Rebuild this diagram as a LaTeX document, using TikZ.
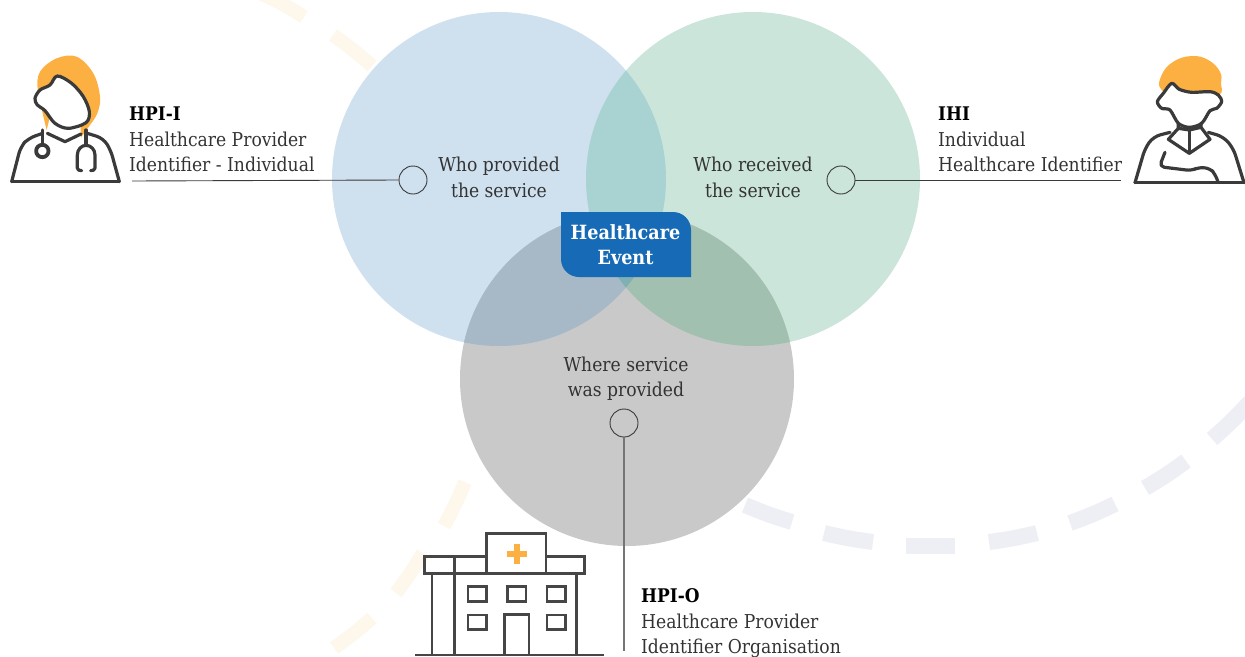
\documentclass[tikz,border=0pt]{standalone}
\usepackage{fontspec}
\setmainfont{DejaVu Serif}
\newfontfamily\regf{DejaVu Serif Condensed}
\newfontfamily\boldf{DejaVu Serif Condensed Bold}
\definecolor{cblue}{HTML}{CFE0EF}
\definecolor{cgreen}{HTML}{CBE5DA}
\definecolor{cgrey}{HTML}{C9C9C9}
\definecolor{cbg}{HTML}{A9D2D3}
\definecolor{cbk}{HTML}{A7B8C7}
\definecolor{cgk}{HTML}{A2C0B0}
\definecolor{ctri}{HTML}{80B0B3}
\definecolor{pale}{HTML}{FEF7EC}
\definecolor{lav}{HTML}{EEEFF5}
\definecolor{orng}{HTML}{FDB042}
\definecolor{ink}{HTML}{3A3A3A}
\definecolor{hink}{HTML}{464646}
\definecolor{txt}{HTML}{333333}
\definecolor{boxblue}{HTML}{176BB6}
\tikzset{
  vennc/.style={circle,minimum size=334pt,inner sep=0pt,draw=none},
  dot/.style={circle,minimum size=28pt,inner sep=0pt,draw=ink,line width=.9pt},
  lead/.style={draw=ink,line width=.9pt},
  palestroke/.style={draw=pale,line width=14pt},
  lavstroke/.style={draw=lav,line width=16pt},
  icon/.style={draw=ink,line width=3.2pt,line join=round,line cap=round},
  bld/.style={inner sep=0pt,anchor=base west,text=black,font=\boldf\fontsize{18.8}{20}\selectfont},
  lbl/.style={inner sep=0pt,anchor=base west,text=txt,font=\regf\fontsize{19.1}{20}\selectfont},
  ctr/.style={lbl,anchor=base},
  hosp/.style={draw=hink,line width=2.4pt,line join=miter},
}
\begin{document}
\begin{tikzpicture}[x=1pt,y=-1pt]
\useasboundingbox (0,0) rectangle (1245,656);
\begin{scope}
\clip (0,0) rectangle (1245,656);
% background dashes
\draw[palestroke] (262,-6) to[bend left=4] (304,17);
\draw[palestroke] (333,35) to[bend left=3] (372,66);
\draw[palestroke] (465,482) to[bend left=3] (444,526);
\draw[palestroke] (423,553) to[bend left=3] (396,593);
\draw[palestroke] (372,618) to[bend left=3] (334,648);
\draw[lavstroke] (745,505) to[bend right=3] (792,522);
\draw[lavstroke] (824,533) to[bend right=3] (873,542);
\draw[lavstroke] (906,546) to (955,546);
\draw[lavstroke] (989,542) to[bend right=3] (1037,533);
\draw[lavstroke] (1070,523) to[bend right=3] (1115,504);
\draw[lavstroke] (1145,488) to[bend right=3] (1186,461);
\draw[lavstroke] (1212,439) to[bend right=3] (1250,402);
\end{scope}
% venn
\node[vennc,fill=cblue] (vb) at (499,179) {};
\node[vennc,fill=cgreen] (vg) at (753,179) {};
\node[vennc,fill=cgrey] (vk) at (627,379) {};
\begin{scope}\clip (499,179) circle (167pt); \fill[cbg] (753,179) circle (167pt);\end{scope}
\begin{scope}\clip (499,179) circle (167pt); \fill[cbk] (627,379) circle (167pt);\end{scope}
\begin{scope}\clip (753,179) circle (167pt); \fill[cgk] (627,379) circle (167pt);\end{scope}
\begin{scope}\clip (499,179) circle (167pt); \clip (753,179) circle (167pt); \fill[ctri] (627,379) circle (167pt);\end{scope}
% centre box
\fill[boxblue] (561,212) -- (673,212) .. controls (683,212) and (691,220) .. (691,230) -- (691,277) -- (579,277) .. controls (569,277) and (561,269) .. (561,259) -- cycle;
\node[inner sep=0pt,anchor=base,text=white,font=\boldf\fontsize{19.6}{20}\selectfont] (he1) at (625.5,239) {Healthcare};
\node[inner sep=0pt,anchor=base,text=white,font=\boldf\fontsize{19.6}{20}\selectfont] (he2) at (625.5,264) {Event};
% venn labels
\node[ctr] (w1) at (499,171) {Who provided};
\node[ctr] (w2) at (499,197) {the service};
\node[ctr] (r1) at (753,171) {Who received};
\node[ctr] (r2) at (753,197) {the service};
\node[ctr] (p1) at (626,371) {Where service};
\node[ctr] (p2) at (626,396) {was provided};
% side labels
\node[bld] (a1) at (129,120) {HPI-I};
\node[lbl] (a2) at (129,146) {Healthcare Provider};
\node[lbl] (a3) at (129,171) {Identifier - Individual};
\node[bld] (b1) at (938,120) {IHI};
\node[lbl] (b2) at (938,146) {Individual};
\node[lbl] (b3) at (938,171) {Healthcare Identifier};
\node[bld] (c1) at (641,602) {HPI-O};
\node[lbl] (c2) at (641,628) {Healthcare Provider};
\node[lbl] (c3) at (641,653) {Identifier Organisation};
% connectors
\node[dot] (d1) at (413,180) {};
\node[dot] (d2) at (841,180) {};
\node[dot] (d3) at (624,423) {};
\coordinate (e1) at (132,181);
\coordinate (e2) at (1121,180);
\coordinate (e3) at (624,651);
\draw[lead] (e1) -- (d1.west);
\draw[lead] (d2.east) -- (e2);
\draw[draw=ink!70,line width=1.2pt] (d3.south) -- (e3);
% doctor icon
\begin{scope}[shift={(0,40)},x=.33333pt,y=-.33333pt]
\fill[orng] plot[smooth,tension=.6] coordinates {(140,270) (128,220) (113,150) (120,95) (170,55) (230,50) (280,100) (300,170) (292,220) (265,262) (243,292)} -- (240,230) -- (150,230) -- cycle;
\draw[icon,fill=white] plot[smooth cycle,tension=.55] coordinates {(172,108) (215,130) (250,170) (268,215) (258,248) (205,265) (165,250) (135,212) (112,195) (105,175) (120,150) (150,135)};
\draw[icon,rounded corners=7pt] (35,425) -- (62,320) -- (85,295) -- (128,280);
\draw[icon] (142,280) -- (195,305) -- (243,282);
\draw[icon,rounded corners=7pt] (262,280) -- (310,295) -- (332,330) -- (358,425);
\draw[icon] (35,425) -- (358,425);
\draw[icon] (127,270) -- (127,310);
\draw[icon,line width=3.8pt] (127,333) circle (6.2pt);
\draw[icon] (258,270) -- (258,315);
\draw[icon] (245,392) .. controls (238,392) and (232,390) .. (232,384) -- (232,345) .. controls (232,328) and (245,316) .. (258,316) .. controls (272,316) and (285,328) .. (285,345) -- (285,384) .. controls (285,390) and (279,392) .. (272,392);
\end{scope}
% man icon
\begin{scope}[shift={(1120,40)},x=.33333pt,y=-.33333pt]
\fill[orng] plot[smooth cycle,tension=.7] coordinates {(125,150) (125,105) (160,65) (215,48) (265,60) (300,95) (303,130) (295,165) (200,180)};
\draw[icon,fill=white] plot[smooth cycle,tension=.5] coordinates {(130,160) (155,130) (178,148) (215,157) (270,155) (295,165) (305,185) (290,205) (270,212) (245,250) (208,262) (175,250) (150,210) (125,205) (112,185)};
\draw[icon] (175,250) -- (175,265) -- (145,298) -- (208,340) -- (270,298) -- (243,262) -- (243,250);
\draw[icon] (208,270) -- (208,340);
\draw[icon] (175,265) -- (208,270) -- (243,262);
\draw[icon,rounded corners=7pt] (45,428) -- (75,325) -- (100,290) -- (150,277);
\draw[icon,rounded corners=7pt] (265,277) -- (310,290) -- (340,325) -- (372,428);
\draw[icon] (45,428) -- (372,428);
\draw[icon,rounded corners=5pt] (135,337) -- (118,380) -- (215,392) -- (235,382) -- (270,385) -- (285,402) -- (295,428);
\end{scope}
% hospital icon
\begin{scope}[shift={(400,520)},x=.33333pt,y=-.33333pt]
\draw[hosp] (259,158) -- (259,40) -- (438,40) -- (438,158);
\draw[hosp] (259,109) -- (74,109) -- (74,161) -- (553,161) -- (553,109) -- (438,109);
\draw[hosp] (164,109) -- (164,405);
\draw[hosp] (96,161) -- (96,405);
\draw[hosp] (530,161) -- (530,405);
\draw[hosp] (204,200) rectangle (260,244);
\draw[hosp] (322,200) rectangle (378,244);
\draw[hosp] (441,200) rectangle (497,244);
\draw[hosp] (204,285) rectangle (260,329);
\draw[hosp] (441,285) rectangle (497,329);
\draw[hosp] (314,405) -- (314,283) -- (387,283) -- (387,405);
\draw[hosp] (45,405) -- (612,405);
\fill[orng] (341,72) rectangle (359,131);
\fill[orng] (321,92) rectangle (380,110);
\end{scope}
\end{tikzpicture}
\end{document}
